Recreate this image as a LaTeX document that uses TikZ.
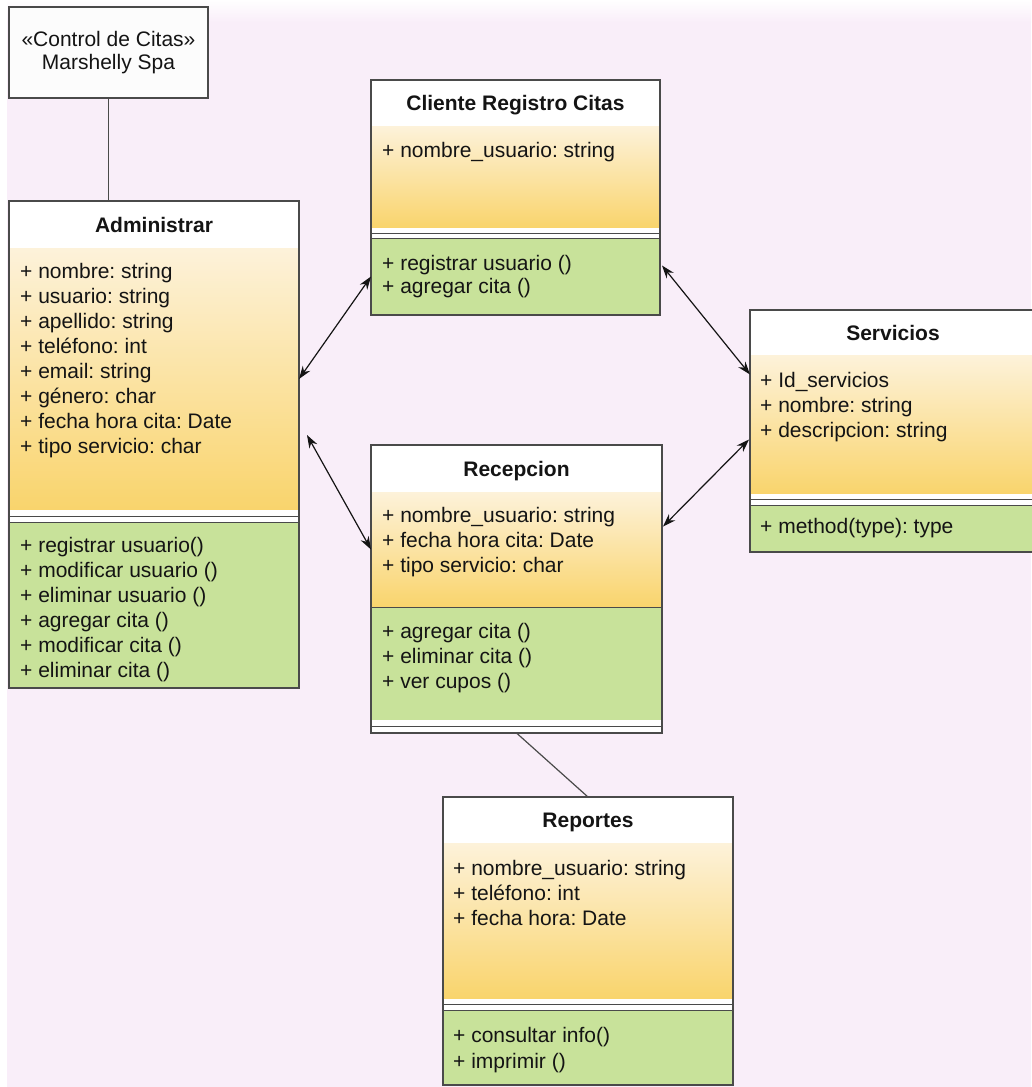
\documentclass[tikz,border=0pt]{standalone}
\usepackage{fontspec}
\setmainfont{Liberation Sans}
\frenchspacing
\usetikzlibrary{positioning,calc,arrows.meta}
\definecolor{bgpink}{HTML}{F9EEF9}
\definecolor{attrtop}{HTML}{FDF2DA}
\definecolor{attrbot}{HTML}{F9D46C}
\definecolor{methgreen}{HTML}{C8E29A}
\definecolor{edge}{HTML}{4A4A4A}
\definecolor{ink}{HTML}{141414}
\begin{document}
\begin{tikzpicture}[x=1pt,y=-1pt,
  box/.style={rectangle,inner sep=0pt,outer sep=0pt,minimum width=#1},
  head/.style={box=#1,fill=white,draw=edge!35,minimum height=46pt,text=ink,text depth=0pt,font=\bfseries\fontsize{21}{25}\selectfont},
  attrs/.style={box=#1,top color=attrtop,bottom color=attrbot,draw=none},
  meths/.style={box=#1,fill=methgreen,draw=edge,line width=1pt},
  gapbox/.style={box=#1,fill=white,minimum height=11pt,path picture={\draw[edge,line width=1pt] (path picture bounding box.west) -- (path picture bounding box.east);}},
  member/.style={anchor=base west,inner sep=0pt,text=ink,font=\fontsize{21}{25}\selectfont},
  frame/.style={draw=edge,line width=1.5pt},
  link/.style={draw=ink,line width=1.2pt,{Stealth[length=13pt,width=9pt]}-{Stealth[length=13pt,width=9pt]}}]
\useasboundingbox (0,0) rectangle (1031,1087);
\fill[white] (0,0) rectangle (1031,1087);
\fill[bgpink] (7,0) rectangle (1031,1087);
\shade[top color=white,bottom color=bgpink] (7,0) rectangle (1031,22);
% package box
\node[box=199pt,minimum height=91pt,anchor=north west,fill=white!99!black,draw=edge,line width=1.5pt,align=center,text=ink,font=\fontsize{21}{23}\selectfont] (ctrl) at (9,7) {«Control de Citas»\\Marshelly Spa};
% Administrar
\node[head=290pt,minimum height=47pt,anchor=north west] (adm) at (9,201) {Administrar};
\node[attrs=290pt,minimum height=262pt,below=0pt of adm] (admA) {};
\node[gapbox=290pt,minimum height=12pt,below=0pt of admA] (admG) {};
\node[meths=290pt,minimum height=166pt,below=0pt of admG] (admM) {};
\draw[frame] (adm.north west) rectangle (admM.south east);
\foreach \txt [count=\i from 0] in {+ nombre: string,+ usuario: string,+ apellido: string,+ teléfono: int,+ email: string,+ género: char,+ fecha hora cita: Date,+ tipo servicio: char}
  \node[member] (admA\i) at ($(admA.north west)+(11,30+25*\i)$) {\txt};
\foreach \txt [count=\i from 0] in {+ registrar usuario(),+ modificar usuario (),+ eliminar usuario (),+ agregar cita (),+ modificar cita (),+ eliminar cita ()}
  \node[member] (admM\i) at ($(admM.north west)+(11,30+25*\i)$) {\txt};
% Cliente Registro Citas
\node[head=289pt,minimum height=46pt,anchor=north west] (cli) at (371,80) {Cliente Registro Citas};
\node[attrs=289pt,minimum height=102pt,below=0pt of cli] (cliA) {};
\node[gapbox=289pt,minimum height=10pt,below=0pt of cliA] (cliG) {};
\node[meths=289pt,minimum height=77pt,below=0pt of cliG] (cliM) {};
\draw[frame] (cli.north west) rectangle (cliM.south east);
\node[member] (cliA0) at ($(cliA.north west)+(11,31)$) {+ nombre\_usuario: string};
\foreach \txt [count=\i from 0] in {+ registrar usuario (),+ agregar cita ()}
  \node[member] (cliM\i) at ($(cliM.north west)+(11,32+23*\i)$) {\txt};
% Servicios
\node[head=286pt,minimum height=45pt,anchor=north west] (ser) at (750,310) {Servicios};
\node[attrs=286pt,minimum height=139pt,below=0pt of ser] (serA) {};
\node[gapbox=286pt,minimum height=11pt,below=0pt of serA] (serG) {};
\node[meths=286pt,minimum height=47pt,below=0pt of serG] (serM) {};
\draw[frame] (ser.north west) rectangle (serM.south east);
\foreach \txt [count=\i from 0] in {+ Id\_servicios,+ nombre: string,+ descripcion: string}
  \node[member] (serA\i) at ($(serA.north west)+(10,32+25*\i)$) {\txt};
\node[member] (serM0) at ($(serM.north west)+(10,28)$) {+ method(type): type};
% Recepcion
\node[head=291pt,minimum height=47pt,anchor=north west] (rec) at (371,445) {Recepcion};
\node[attrs=291pt,minimum height=115pt,below=0pt of rec] (recA) {};
\node[meths=291pt,minimum height=113pt,below=0pt of recA] (recM) {};
\node[gapbox=291pt,minimum height=13pt,below=0pt of recM] (recG) {};
\draw[frame] (rec.north west) rectangle (recG.south east);
\foreach \txt [count=\i from 0] in {+ nombre\_usuario: string,+ fecha hora cita: Date,+ tipo servicio: char}
  \node[member] (recA\i) at ($(recA.north west)+(11,30+25*\i)$) {\txt};
\foreach \txt [count=\i from 0] in {+ agregar cita (),+ eliminar cita (),+ ver cupos ()}
  \node[member] (recM\i) at ($(recM.north west)+(11,31+25*\i)$) {\txt};
% Reportes
\node[head=290pt,minimum height=46pt,anchor=north west] (rep) at (443,797) {Reportes};
\node[attrs=290pt,minimum height=156pt,below=0pt of rep] (repA) {};
\node[gapbox=290pt,minimum height=11pt,below=0pt of repA] (repG) {};
\node[meths=290pt,minimum height=75pt,below=0pt of repG] (repM) {};
\draw[frame] (rep.north west) rectangle (repM.south east);
\foreach \txt [count=\i from 0] in {+ nombre\_usuario: string,+ teléfono: int,+ fecha hora: Date}
  \node[member] (repA\i) at ($(repA.north west)+(10,32+25*\i)$) {\txt};
\foreach \txt [count=\i from 0] in {+ consultar info(),+ imprimir ()}
  \node[member] (repM\i) at ($(repM.north west)+(10,32+26*\i)$) {\txt};
% connectors
\draw[edge,line width=1.2pt] (ctrl.south) -- (ctrl.south |- adm.north);
\draw[edge,line width=1.2pt] (recG.south) -- (rep.north);
\draw[link] (admA.east) -- (cliM.west);
\draw[link] ($(admA.east)+(8,56)$) -- (recA.west);
\draw[link] ($(cliM.east)+(2,-11)$) -- ($(serA.west)+(0,-50)$);
\draw[link] ($(serA.west)+(-1,15)$) -- ($(recA.east)+(1,-23)$);
\end{tikzpicture}
\end{document}
